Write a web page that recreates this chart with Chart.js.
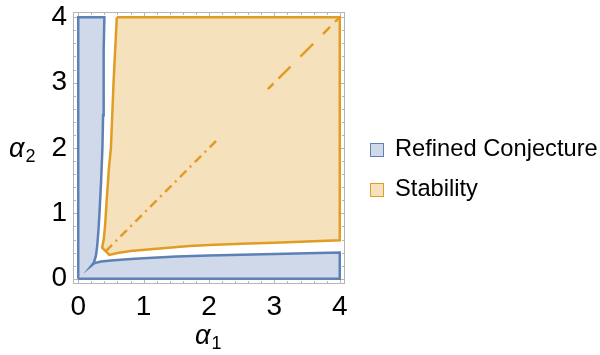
<!DOCTYPE html>
<html lang="en">
<head>
  <meta charset="UTF-8">
  <title>Refined Conjecture vs Stability</title>
  <style>
    body {
      margin: 0;
      background: #fff;
    }

    .wrap {
      position: relative;
      width: 600px;
      height: 355px;
      font-family: 'Liberation Sans', Arial, Helvetica, sans-serif;
      color: #000;
    }

    .wrap canvas {
      position: absolute;
      left: 0;
      top: 0;
    }

    .axis-title {
      position: absolute;
      font-size: 27px;
      line-height: 27px;
      white-space: nowrap;
    }

    .axis-title i {
      font-style: italic;
    }

    .axis-title .idx {
      position: relative;
      top: 5px;
      font-size: 18px;
      margin-left: 1px;
    }

    .legend-item {
      position: absolute;
      left: 370px;
      height: 24px;
      line-height: 24px;
      font-size: 23.7px;
      white-space: nowrap;
    }

    .legend-item .sw {
      display: inline-block;
      box-sizing: border-box;
      width: 14px;
      height: 14px;
      border: 1.5px solid;
      margin-right: 11px;
      vertical-align: -1px;
    }
  </style>
</head>
<body>
  <div class="wrap">
    <canvas id="regions" width="600" height="355"></canvas>

    <div class="axis-title" style="left:195px; top:322px;"><i>α</i><span class="idx">1</span></div>
    <div class="axis-title" style="left:9px; top:135px;"><i>α</i><span class="idx">2</span></div>

    <div class="legend-item" style="top:136px;"><span class="sw" style="background:#cfd9e9; border-color:#5e81b5;"></span>Refined Conjecture</div>
    <div class="legend-item" style="top:176px;"><span class="sw" style="background:#f6e1bd; border-color:#e19c24;"></span>Stability</div>
  </div>

  <script src="https://cdn.jsdelivr.net/npm/chart.js"></script>
  <script>
    // tick labels / tick marks
    const majorTicks = [0, 1, 2, 3, 4];
    const minorTicks = [0, 0.2, 0.4, 0.6, 0.8, 1, 1.2, 1.4, 1.6, 1.8, 2, 2.2, 2.4, 2.6, 2.8, 3, 3.2, 3.4, 3.6, 3.8, 4];

    // Refined Conjecture: lower arm (y as function of x), left arm (x as function of y)
    const conjLowerX = [0.2, 0.25, 0.35, 0.5, 0.75, 1, 1.5, 2, 2.5, 3, 3.5, 4];
    const conjLowerY = [0.2, 0.24, 0.265, 0.28, 0.3, 0.315, 0.34, 0.355, 0.368, 0.38, 0.39, 0.4];
    const conjLeftY = [0.2, 0.25, 0.35, 0.5, 0.75, 1, 1.5, 2, 2.5, 3, 3.5, 4];
    const conjLeftX = [0.2, 0.24, 0.27, 0.29, 0.31, 0.325, 0.35, 0.37, 0.38, 0.385, 0.393, 0.4];

    // Stability: lower boundary and left boundary
    const stabLowerX = [0.475, 0.6, 0.8, 1.2, 1.7, 2, 2.5, 3, 3.5, 4];
    const stabLowerY = [0.365, 0.395, 0.425, 0.46, 0.5, 0.515, 0.535, 0.55, 0.57, 0.59];
    const stabLeftY = [0.475, 0.6, 0.8, 1.2, 1.7, 2, 2.5, 3, 3.5, 4];
    const stabLeftX = [0.365, 0.39, 0.41, 0.435, 0.47, 0.5, 0.52, 0.54, 0.565, 0.59];

    // diagonal alpha1 = alpha2 pieces
    const diagA = [0.42, 2.13];
    const diagB = [2.9, 4];

    const blueLine = '#5e81b5';
    const blueFill = '#cfd9e9';
    const orangeLine = '#e19c24';
    const orangeFill = '#f6e1bd';

    // building the closed outlines
    const pt = (x, y) => ({ x: x, y: y });

    const conjPoly = [pt(0, 0), pt(4, 0)];
    for (let i = conjLowerX.length - 1; i >= 0; i--) conjPoly.push(pt(conjLowerX[i], conjLowerY[i]));
    for (let i = 1; i < conjLeftY.length; i++) conjPoly.push(pt(conjLeftX[i], conjLeftY[i]));
    conjPoly.push(pt(0, 4), pt(0, 0));

    const stabPoly = [pt(stabLeftX[stabLeftX.length - 1], 4), pt(4, 4)];
    for (let i = stabLowerX.length - 1; i >= 0; i--) stabPoly.push(pt(stabLowerX[i], stabLowerY[i]));
    for (let i = 0; i < stabLeftY.length; i++) stabPoly.push(pt(stabLeftX[i], stabLeftY[i]));

    // fill the closed outlines (Mathematica style regions)
    const polyFill = {
      id: 'polyFill',
      beforeDatasetsDraw(chart) {
        const c = chart.ctx;
        chart.data.datasets.forEach((ds, i) => {
          if (!ds.polyFill) return;
          const pts = chart.getDatasetMeta(i).data;
          c.save();
          c.beginPath();
          pts.forEach((p, k) => k ? c.lineTo(p.x, p.y) : c.moveTo(p.x, p.y));
          c.closePath();
          c.fillStyle = ds.backgroundColor;
          c.fill();
          c.restore();
        });
      }
    };

    // grey frame with inward ticks on all four sides
    const frame = {
      id: 'frame',
      beforeDatasetsDraw(chart) {
        const c = chart.ctx;
        const a = chart.chartArea;
        const xs = chart.scales.x, ys = chart.scales.y;
        c.save();
        c.strokeStyle = '#b5b5b5';
        c.lineWidth = 1;
        c.strokeRect(a.left + 0.5, a.top + 0.5, a.right - a.left - 1, a.bottom - a.top - 1);
        c.beginPath();
        minorTicks.forEach(v => {
          const len = majorTicks.includes(v) ? 5 : 3;
          const px = Math.round(xs.getPixelForValue(v)) + 0.5;
          const py = Math.round(ys.getPixelForValue(v)) + 0.5;
          c.moveTo(px, a.bottom); c.lineTo(px, a.bottom - len);
          c.moveTo(px, a.top); c.lineTo(px, a.top + len);
          c.moveTo(a.left, py); c.lineTo(a.left + len, py);
          c.moveTo(a.right, py); c.lineTo(a.right - len, py);
        });
        c.stroke();
        c.restore();
      }
    };

    const tickFont = { family: "'Liberation Sans', Arial, sans-serif", size: 28 };

    new Chart(document.getElementById('regions'), {
      type: 'scatter',
      data: {
        datasets: [
          {
            label: 'Refined Conjecture',
            data: conjPoly,
            showLine: true,
            polyFill: true,
            borderColor: blueLine,
            backgroundColor: blueFill,
            borderWidth: 2.5,
            pointRadius: 0
          },
          {
            label: 'Stability',
            data: stabPoly,
            showLine: true,
            polyFill: true,
            borderColor: orangeLine,
            backgroundColor: orangeFill,
            borderWidth: 2.5,
            pointRadius: 0
          },
          {
            label: 'diagonal 1',
            data: diagA.map(v => pt(v, v)),
            showLine: true,
            borderColor: orangeLine,
            borderWidth: 2.5,
            borderDash: [9, 5, 2, 5],
            pointRadius: 0
          },
          {
            label: 'diagonal 2',
            data: diagB.map(v => pt(v, v)),
            showLine: true,
            borderColor: orangeLine,
            borderWidth: 2.5,
            borderDash: [8, 7, 17, 14, 18, 14, 10, 7, 7, 20],
            pointRadius: 0
          }
        ]
      },
      options: {
        responsive: false,
        animation: false,
        layout: { padding: { top: 12, right: 255, left: 0, bottom: 0 } },
        plugins: {
          legend: { display: false },
          tooltip: { enabled: false }
        },
        scales: {
          x: {
            type: 'linear',
            min: -0.08,
            max: 4.08,
            grid: { display: false, drawTicks: false },
            border: { display: false },
            ticks: { color: '#000', font: tickFont, padding: 6, maxRotation: 0 },
            afterBuildTicks: s => { s.ticks = majorTicks.map(v => ({ value: v })); },
            afterFit: s => { s.height = 71; s.paddingLeft = 0; s.paddingRight = 0; }
          },
          y: {
            type: 'linear',
            min: -0.08,
            max: 4.08,
            grid: { display: false, drawTicks: false },
            border: { display: false },
            ticks: { color: '#000', font: tickFont, padding: 6 },
            afterBuildTicks: s => { s.ticks = majorTicks.map(v => ({ value: v })); },
            afterFit: s => { s.width = 73; s.paddingTop = 0; s.paddingBottom = 0; }
          }
        }
      },
      plugins: [frame, polyFill]
    });
  </script>
</body>
</html>
